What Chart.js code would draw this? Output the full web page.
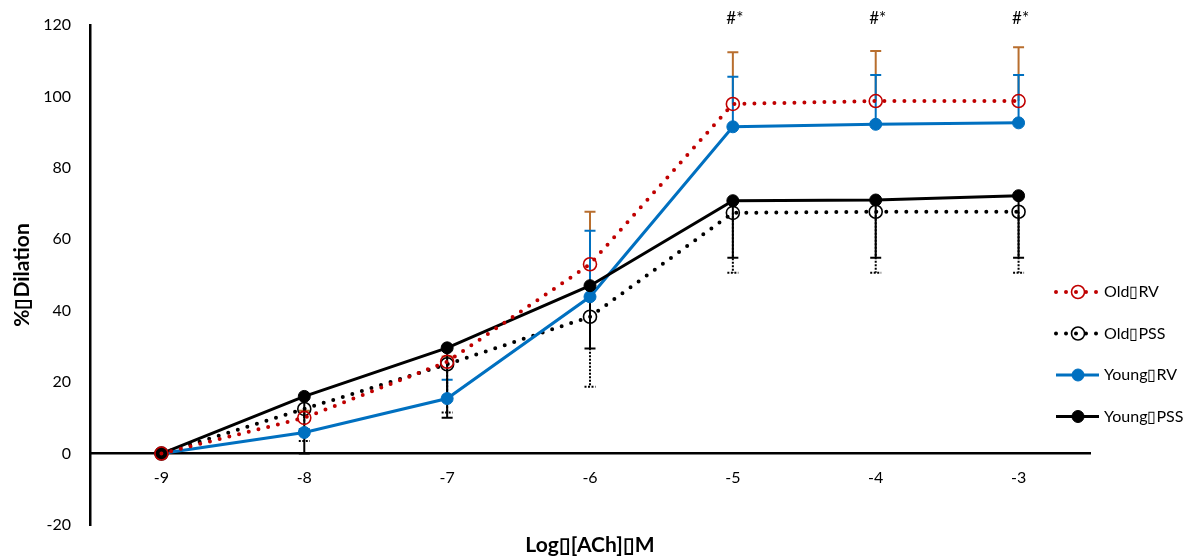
<!DOCTYPE html>
<html>
<head>
<meta charset="utf-8">
<script src="https://cdn.jsdelivr.net/npm/chart.js@4.4.1/dist/chart.umd.min.js"></script>
<style>
  html, body { margin: 0; padding: 0; background: #fff; }
  #wrap { width: 1191px; height: 560px; }
</style>
</head>
<body>
<div id="wrap"><canvas id="dilationChart"></canvas></div>
<script>
// log [ACh] (M) doses
const doses = ['-9', '-8', '-7', '-6', '-5', '-4', '-3'];

// mean % dilation per group
const oldRv    = [0, 10.0, 25.7, 53.0, 97.9, 98.7, 98.7];
const oldPss   = [0, 12.5, 25.0, 38.3, 67.4, 67.7, 67.7];
const youngRv  = [0, 5.9, 15.4, 43.9, 91.5, 92.2, 92.6];
const youngPss = [0, 16.0, 29.6, 47.0, 70.8, 71.0, 72.2];

// one-sided error (SEM)
const oldRvErr    = [0, 2.0, 1.5, 14.7, 14.5, 14.0, 15.1];
const oldPssErr   = [0, 9.0, 13.5, 19.6, 16.8, 17.1, 17.1];
const youngRvErr  = [0, 1.0, 5.3, 18.5, 14.0, 13.8, 13.4];
const youngPssErr = [0, 16.0, 19.6, 17.6, 16.0, 16.2, 17.4];

const sigMarks = ['', '', '', '', '#*', '#*', '#*'];
const seriesNames = ['Old\u25AFRV', 'Old\u25AFPSS', 'Young\u25AFRV', 'Young\u25AFPSS'];

const FONT = 'Lato, "Open Sans", sans-serif';

// vertical error bars, drawn under the lines and markers
const errorBars = {
    id: 'errorBars',
    beforeDatasetsDraw(chart) {
        const { ctx, scales: { x, y } } = chart;
        const drawOrder = [0, 2, 1, 3];
        drawOrder.forEach(idx => {
            const ds = chart.data.datasets[idx];
            ctx.save();
            ctx.strokeStyle = ds.errColor;
            ctx.lineWidth = 2;
            ctx.setLineDash(ds.errDash || []);
            ds.data.forEach((v, i) => {
                const e = ds.errValues[i];
                if (!e) return;
                const px = x.getPixelForValue(i);
                const py = y.getPixelForValue(v);
                const pe = y.getPixelForValue(v + ds.errDir * e);
                ctx.beginPath();
                ctx.moveTo(px, py);
                ctx.lineTo(px, pe);
                ctx.moveTo(px - 5.5, pe);
                ctx.lineTo(px + 5.5, pe);
                ctx.stroke();
            });
            ctx.restore();
        });
    }
};

// "#*" significance marks above the top points
const sigLabels = {
    id: 'sigLabels',
    afterDatasetsDraw(chart) {
        const { ctx, chartArea, scales: { x } } = chart;
        ctx.save();
        ctx.font = '17px ' + FONT;
        ctx.fillStyle = '#000';
        ctx.textAlign = 'center';
        ctx.textBaseline = 'middle';
        sigMarks.forEach((m, i) => {
            if (m) ctx.fillText(m, x.getPixelForValue(i) + 2, chartArea.top - 6);
        });
        ctx.restore();
    }
};

// x title and legend to the right, with line sample + marker
const extras = {
    id: 'extras',
    afterDraw(chart) {
        const { ctx, chartArea } = chart;
        ctx.save();
        ctx.font = 'bold 21px ' + FONT;
        ctx.fillStyle = '#000';
        ctx.textAlign = 'center';
        ctx.textBaseline = 'middle';
        ctx.fillText('Log\u25AF[ACh]\u25AFM', (chartArea.left + chartArea.right) / 2, chartArea.bottom + 20);

        const x0 = chartArea.right - 34;
        const legendOrder = [0, 1, 2, 3];
        legendOrder.forEach((idx, row) => {
            const ds = chart.data.datasets[idx];
            const yy = chartArea.top + 267 + row * 41.5;
            ctx.save();
            ctx.strokeStyle = ds.borderColor;
            ctx.lineWidth = ds.borderWidth;
            ctx.lineCap = ds.borderCapStyle || 'butt';
            ctx.setLineDash(ds.borderDash || []);
            ctx.beginPath();
            ctx.moveTo(x0, yy);
            ctx.lineTo(x0 + 43, yy);
            ctx.stroke();
            ctx.setLineDash([]);
            ctx.beginPath();
            ctx.arc(x0 + 22, yy, ds.pointRadius, 0, Math.PI * 2);
            if (ds.pointBackgroundColor !== 'rgba(0,0,0,0)') {
                ctx.fillStyle = ds.pointBackgroundColor;
                ctx.fill();
            }
            ctx.lineWidth = ds.pointBorderWidth;
            ctx.strokeStyle = ds.pointBorderColor;
            ctx.stroke();
            ctx.restore();

            ctx.font = '16px ' + FONT;
            ctx.textAlign = 'left';
            ctx.fillStyle = '#000';
            ctx.fillText(ds.label, x0 + 48, yy);
        });
        ctx.restore();
    }
};

const dotted = { borderDash: [0, 10], borderCapStyle: 'round', borderWidth: 4 };

new Chart(document.getElementById('dilationChart'), {
    type: 'line',
    data: {
        labels: doses,
        datasets: [
            {
                label: seriesNames[0], data: oldRv, ...dotted,
                borderColor: '#C00000',
                pointRadius: 6.5, pointBorderWidth: 1.6,
                pointBorderColor: '#C00000', pointBackgroundColor: 'rgba(0,0,0,0)',
                errValues: oldRvErr, errDir: 1, errColor: '#B86E2E',
                order: 0
            },
            {
                label: seriesNames[1], data: oldPss, ...dotted,
                borderColor: '#000000',
                pointRadius: 6.5, pointBorderWidth: 1.6,
                pointBorderColor: '#000000', pointBackgroundColor: 'rgba(0,0,0,0)',
                errValues: oldPssErr, errDir: -1, errColor: '#000000', errDash: [2, 1.5],
                order: 3
            },
            {
                label: seriesNames[2], data: youngRv,
                borderColor: '#0070C0', borderWidth: 3,
                pointRadius: 6, pointBorderWidth: 1,
                pointBorderColor: '#0070C0', pointBackgroundColor: '#0070C0',
                errValues: youngRvErr, errDir: 1, errColor: '#0070C0',
                order: 2
            },
            {
                label: seriesNames[3], data: youngPss,
                borderColor: '#000000', borderWidth: 3,
                pointRadius: 6, pointBorderWidth: 1,
                pointBorderColor: '#000000', pointBackgroundColor: '#000000',
                errValues: youngPssErr, errDir: -1, errColor: '#000000',
                order: 1
            }
        ]
    },
    options: {
        responsive: true,
        maintainAspectRatio: false,
        animation: false,
        layout: { padding: { left: 0, top: 25, right: 101, bottom: 35 } },
        plugins: {
            legend: { display: false },
            tooltip: { enabled: false }
        },
        elements: { line: { tension: 0 } },
        scales: {
            x: {
                type: 'category',
                position: { y: 0 },
                offset: true,
                afterFit(scale) { scale.paddingTop = 0; scale.paddingBottom = 0; },
                grid: { drawOnChartArea: false, drawTicks: false },
                border: { display: true, color: '#000', width: 2.5 },
                ticks: { color: '#000', padding: 15, font: { family: FONT, size: 16 } }
            },
            y: {
                min: -20,
                max: 120,
                afterFit(scale) { scale.width = 90; scale.paddingTop = 0; scale.paddingBottom = 0; },
                grid: { drawOnChartArea: false, drawTicks: false },
                border: { display: true, color: '#000', width: 2.5 },
                ticks: { stepSize: 20, color: '#000', padding: 19, font: { family: FONT, size: 16 } },
                title: {
                    display: true,
                    text: '%\u25AFDilation',
                    color: '#000',
                    padding: { top: 10, bottom: 0 },
                    font: { family: FONT, size: 21, weight: 'bold' }
                }
            }
        }
    },
    plugins: [errorBars, sigLabels, extras]
});
</script>
</body>
</html>
